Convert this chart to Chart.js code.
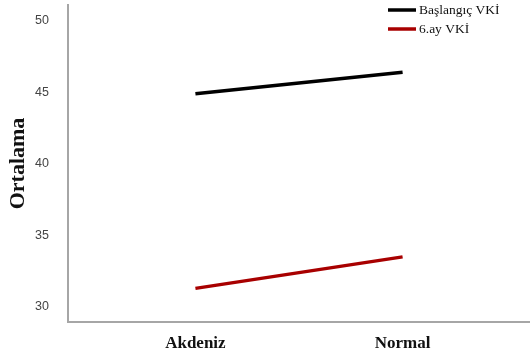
<!DOCTYPE html>
<html>
<head>
<meta charset="utf-8">
<script src="https://cdn.jsdelivr.net/npm/chart.js@4.4.1/dist/chart.umd.min.js"></script>
<style>
  html, body { margin: 0; padding: 0; background: #fff; }
  #wrap { width: 530px; height: 358px; position: relative; }
</style>
</head>
<body>
<div id="wrap"><canvas id="chart"></canvas></div>
<script>
// --- datos del gráfico ---
const groups = ['Akdeniz', 'Normal'];
const baseline = [44.9, 46.4];   // Başlangıç VKİ
const month6 = [31.3, 33.5];     // 6.ay VKİ
const yTicks = [30, 35, 40, 45, 50];

const serif = '"Liberation Serif", "DejaVu Serif", serif';

// leyenda dibujada arriba a la derecha
const cornerLegend = {
    id: 'cornerLegend',
    afterDraw(chart) {
        const c = chart.ctx;
        c.save();
        chart.data.datasets.forEach((ds, i) => {
            const y = 10 + i * 19;
            c.strokeStyle = ds.borderColor;
            c.lineWidth = 3.5;
            c.beginPath();
            c.moveTo(388, y);
            c.lineTo(416, y);
            c.stroke();
            c.fillStyle = '#111';
            c.font = '13.5px ' + serif;
            c.textBaseline = 'middle';
            c.fillText(ds.label, 419, y);
        });
        c.restore();
    }
};

const toPoints = arr => arr.map((v, i) => ({ x: i, y: v }));

new Chart(document.getElementById('chart'), {
    type: 'line',
    data: {
        datasets: [
            { label: 'Başlangıç VKİ', data: toPoints(baseline), borderColor: '#000000', borderWidth: 3.5, pointRadius: 0, tension: 0 },
            { label: '6.ay VKİ', data: toPoints(month6), borderColor: '#a80000', borderWidth: 3.5, pointRadius: 0, tension: 0 }
        ]
    },
    options: {
        responsive: true,
        maintainAspectRatio: false,
        animation: false,
        layout: { padding: { top: 5, right: 0, left: 0, bottom: 0 } },
        plugins: { legend: { display: false }, tooltip: { enabled: false } },
        scales: {
            x: {
                type: 'linear',
                min: -0.615,
                max: 1.615,
                grid: { display: false },
                border: { display: true, color: '#a6a6a6', width: 2 },
                afterBuildTicks: s => { s.ticks = groups.map((g, i) => ({ value: i })); },
                afterFit: s => { s.height = 36; s.paddingLeft = 0; s.paddingRight = 0; },
                ticks: {
                    callback: v => groups[v],
                    color: '#111',
                    font: { family: serif, size: 17, weight: 'bold' },
                    padding: 3,
                    maxRotation: 0
                }
            },
            y: {
                min: 28.95,
                max: 51.1,
                grid: { display: false },
                border: { display: true, color: '#a6a6a6', width: 2 },
                afterBuildTicks: s => { s.ticks = yTicks.map(v => ({ value: v })); },
                afterFit: s => { s.width = 68; s.paddingTop = 0; s.paddingBottom = 0; },
                ticks: {
                    color: '#444',
                    font: { family: '"Liberation Sans", sans-serif', size: 12.5 },
                    padding: 11
                },
                title: {
                    display: true,
                    text: 'Ortalama',
                    color: '#111',
                    font: { family: serif, size: 22, weight: 'bold' },
                    padding: { top: 5, bottom: 4 }
                }
            }
        }
    },
    plugins: [cornerLegend]
});
</script>
</body>
</html>
